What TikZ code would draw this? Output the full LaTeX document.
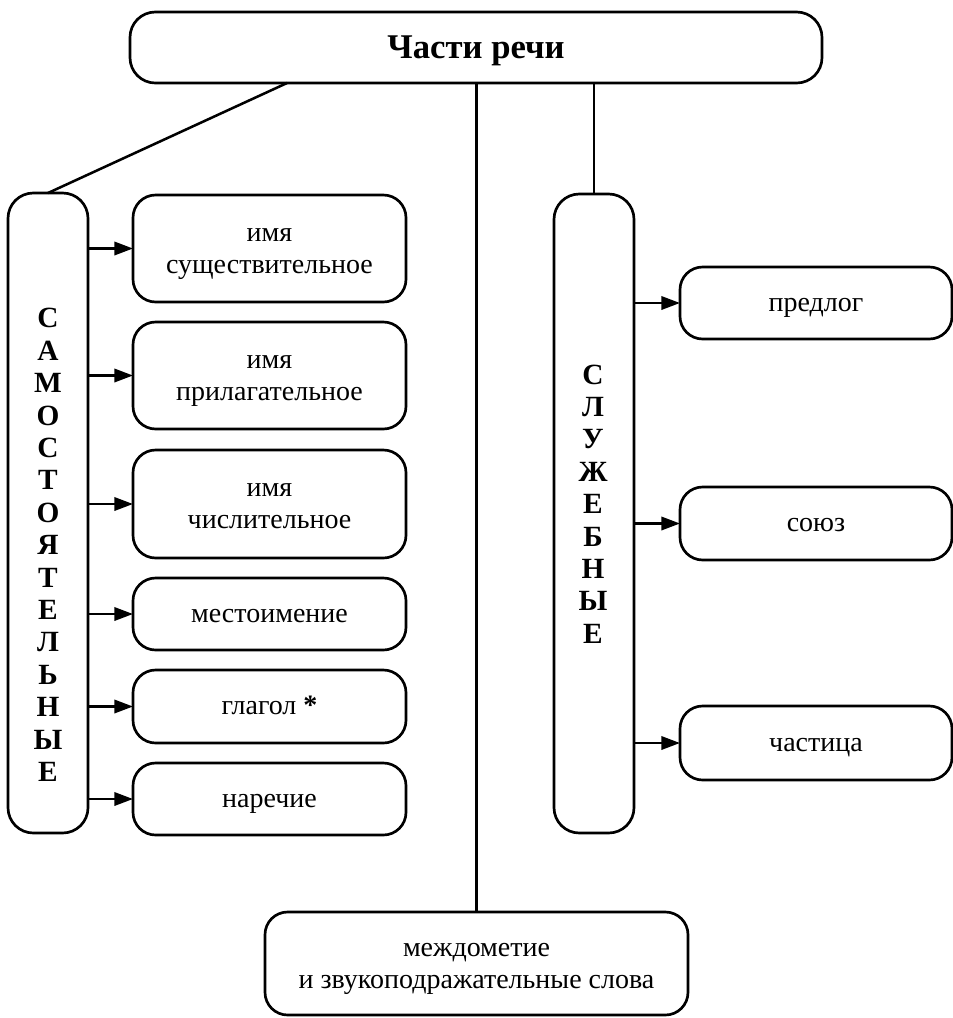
\documentclass[tikz,border=0pt]{standalone}
\usepackage{fontspec}
\setmainfont{Liberation Serif}
\usetikzlibrary{arrows.meta,calc}
\begin{document}
\begin{tikzpicture}[x=0.75pt,y=-0.75pt,
  every node/.style={inner sep=0pt,outer sep=0pt},
  box/.style={draw,line width=2pt,rounded corners=17pt,align=center,
    font=\fontsize{21}{24}\selectfont,text height=17.7pt,text depth=5.04pt},
  twoline/.style={text height=42pt,text depth=5.04pt},
  tallbox/.style={draw,line width=2pt,rounded corners=19pt},
  vtext/.style={align=center,font=\fontsize{22}{24.3}\selectfont\bfseries},
  conn/.style={line width=1.9pt},
  arr/.style={line width=1.9pt,-{Triangle[length=14pt,width=10pt]}}]
\useasboundingbox (0,0) rectangle (953,1018);
% top
\node[box,minimum width=692*0.75pt,minimum height=71*0.75pt,rounded corners=19pt,
  font=\fontsize{26}{30}\selectfont\bfseries,
  text height=20pt,text depth=2.8pt] (top) at (476,47.5) {Части речи};
% tall boxes
\node[tallbox,minimum width=80*0.75pt,minimum height=640*0.75pt] (L) at (48,513) {};
\node[tallbox,minimum width=80*0.75pt,minimum height=639*0.75pt] (R) at (594,513.5) {};
\node[vtext] (Lt) at (48,545) {С\\А\\М\\О\\С\\Т\\О\\Я\\Т\\Е\\Л\\Ь\\Н\\Ы\\Е};
\node[vtext] (Rt) at (593,504) {С\\Л\\У\\Ж\\Е\\Б\\Н\\Ы\\Е};
% left boxes
\node[box,twoline,minimum width=273*0.75pt,minimum height=107*0.75pt] (n1) at (269.5,248.5) {имя\\существительное};
\node[box,twoline,minimum width=273*0.75pt,minimum height=107*0.75pt] (n2) at (269.5,375.5) {имя\\прилагательное};
\node[box,twoline,minimum width=273*0.75pt,minimum height=108*0.75pt] (n3) at (269.5,504) {имя\\числительное};
\node[box,minimum width=273*0.75pt,minimum height=72*0.75pt] (n4) at (269.5,614) {местоимение};
\node[box,minimum width=273*0.75pt,minimum height=73*0.75pt] (n5) at (269.5,706.5) {глагол \textbf{*}};
\node[box,minimum width=273*0.75pt,minimum height=72*0.75pt] (n6) at (269.5,799) {наречие};
% right boxes
\node[box,minimum width=272*0.75pt,minimum height=72*0.75pt] (r1) at (816,303) {предлог};
\node[box,minimum width=272*0.75pt,minimum height=73*0.75pt] (r2) at (816,523.5) {союз};
\node[box,minimum width=272*0.75pt,minimum height=74*0.75pt] (r3) at (816,743) {частица};
% bottom
\node[box,twoline,minimum width=423*0.75pt,minimum height=103*0.75pt] (bot) at (476.5,963.5) {междометие\\и звукоподражательные слова};
% connectors
\coordinate (tl) at ($(top.south west)!0.227!(top.south east)$);
\draw[conn] (tl) -- (L.north);
\draw[conn] (bot.north |- top.south) -- (bot.north);
\draw[conn] (R.north |- top.south) -- (R.north);
\foreach \n in {n1,n2,n3,n4,n5,n6}{
  \draw[arr] (L.east |- \n.west) -- (\n.west);
}
\foreach \n in {r1,r2,r3}{
  \draw[arr] (R.east |- \n.west) -- (\n.west);
}
\end{tikzpicture}
\end{document}
